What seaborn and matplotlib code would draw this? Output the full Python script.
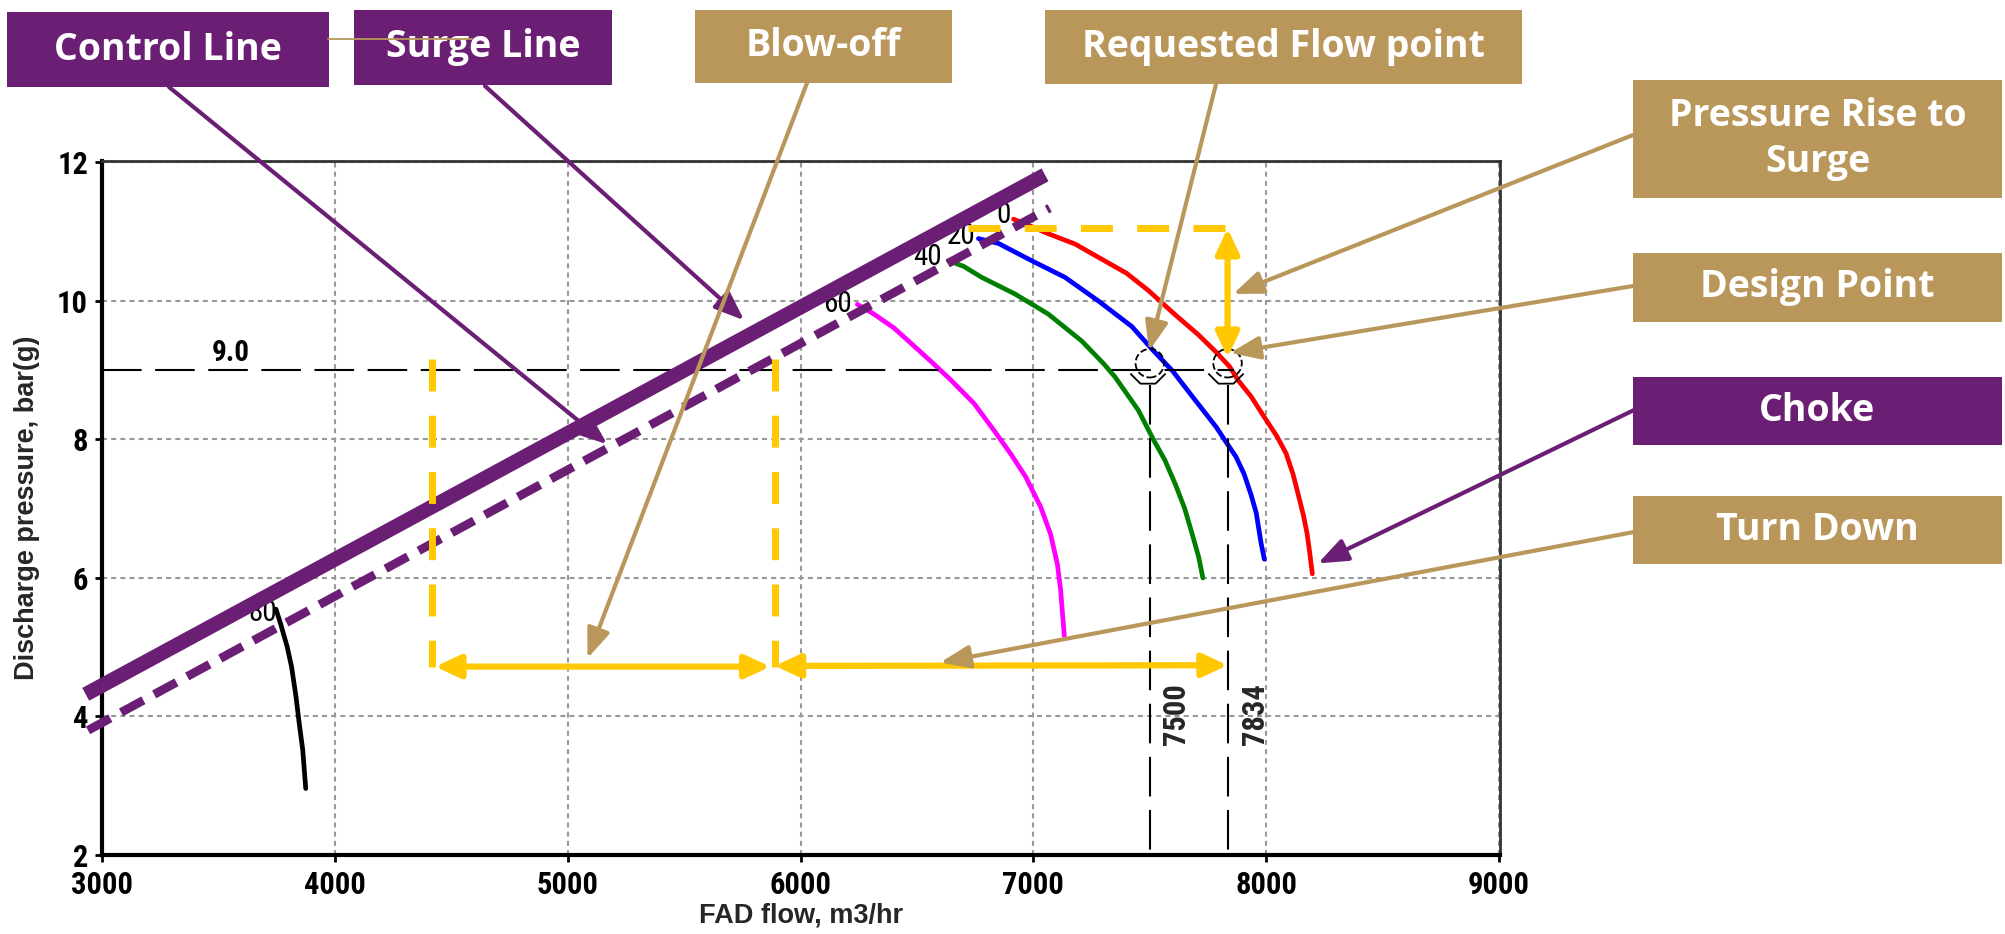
import matplotlib
matplotlib.use('Agg')
import matplotlib.pyplot as plt
import seaborn as sns
import pandas as pd
from matplotlib import font_manager as fm
from matplotlib.patches import Rectangle
from matplotlib.path import Path

# ---------------- data ----------------
speed_labels = ['0', '20', '40', '60', '80']
speed_colors = ['#FF0000', '#0000FF', '#008000', '#FF00FF', '#000000']

flow_0 = [6915, 6960, 7064, 7180, 7279, 7400, 7494, 7609, 7709, 7785, 7843, 7880, 7935, 7996, 8045, 8085, 8115, 8140, 8160, 8175, 8187, 8198]
pres_0 = [11.18, 11.12, 10.97, 10.82, 10.63, 10.40, 10.15, 9.80, 9.51, 9.26, 9.05, 8.85, 8.62, 8.30, 8.05, 7.80, 7.50, 7.17, 6.90, 6.65, 6.36, 6.06]

flow_20 = [6764, 6850, 6993, 7136, 7279, 7423, 7513, 7600, 7685, 7785, 7830, 7870, 7905, 7935, 7957, 7978, 7992]
pres_20 = [10.90, 10.83, 10.58, 10.34, 10.00, 9.63, 9.29, 8.98, 8.61, 8.18, 7.95, 7.75, 7.50, 7.20, 6.94, 6.50, 6.27]

flow_40 = [6635, 6700, 6778, 6921, 7064, 7208, 7300, 7351, 7451, 7515, 7565, 7610, 7650, 7685, 7710, 7728]
pres_40 = [10.58, 10.50, 10.34, 10.10, 9.81, 9.42, 9.10, 8.90, 8.42, 8.00, 7.70, 7.35, 7.00, 6.60, 6.30, 6.00]

flow_60 = [6244, 6315, 6401, 6487, 6559, 6645, 6745, 6831, 6903, 6967, 7032, 7074, 7103, 7117, 7125, 7133]
pres_60 = [9.95, 9.81, 9.61, 9.35, 9.13, 8.86, 8.52, 8.13, 7.79, 7.46, 7.02, 6.63, 6.20, 5.83, 5.49, 5.16]

flow_80 = [3747, 3766, 3795, 3814, 3833, 3847, 3862, 3875]
pres_80 = [5.55, 5.35, 5.01, 4.72, 4.29, 3.90, 3.52, 2.96]

label_x = [6871, 6690, 6545, 6160, 3690]
label_y = [11.24, 10.93, 10.63, 9.95, 5.50]

surge_x = [2930, 7050]
surge_y = [4.32, 11.82]
control_x = [2940, 7070]
control_y = [3.80, 11.34]

design_pressure = 9.0
design_line_end = 7860
requested_flow = 7500
design_flow = 7834
blowoff_flow = 4416
control_flow_at_design = 5890
arrow_level = 4.72
rise_top = 11.05
rise_bottom = 9.18
rise_start = 6718
dashed_top = 9.16
marker_y = 9.10

x_ticks = [3000, 4000, 5000, 6000, 7000, 8000, 9000]
y_ticks = [2, 4, 6, 8, 10, 12]

# ---------------- style ----------------
sns.set_theme(style='white')
names = {f.name for f in fm.fontManager.ttflist}
narrow, nscale = 'Liberation Sans', 0.92
for cand in ['Liberation Sans Narrow', 'Roboto Condensed', 'Open Sans Condensed', 'Arial Narrow']:
    if cand in names:
        narrow, nscale = cand, 1.0
        break
boxfont = 'Open Sans' if 'Open Sans' in names else 'Lato'
plt.rcParams['font.family'] = ['Liberation Sans', 'DejaVu Sans']

PURPLE = '#6B1F74'
TAN = '#B9975B'
GOLD = '#FFC800'

W, H = 2006, 934
fig = plt.figure(figsize=(W / 100, H / 100), dpi=100)
fig.patch.set_facecolor('white')
ax = fig.add_axes([102 / W, 1 - 855 / H, (1500 - 102) / W, (855 - 161) / H])
ax.set_facecolor('white')

# ---------------- curves ----------------
frames = []
for lab, fx, py in zip(speed_labels, [flow_0, flow_20, flow_40, flow_60, flow_80],
                       [pres_0, pres_20, pres_40, pres_60, pres_80]):
    frames.append(pd.DataFrame({'flow': fx, 'pressure': py, 'speed': lab}))
df = pd.concat(frames, ignore_index=True)
sns.lineplot(data=df, x='flow', y='pressure', hue='speed',
             palette=dict(zip(speed_labels, speed_colors)), hue_order=speed_labels,
             lw=3.4, sort=False, estimator=None, legend=False, ax=ax, zorder=3)

for lab, lx, ly in zip(speed_labels, label_x, label_y):
    ax.text(lx, ly, lab, ha='center', va='center', fontsize=21 * nscale,
            family=narrow, color='black', zorder=4)

# design pressure line
ax.plot([x_ticks[0], design_line_end], [design_pressure, design_pressure],
        color='black', lw=1.5, dashes=(19, 6.5), zorder=4)
ax.text(3554, 9.25, '9.0', ha='center', va='center', fontsize=21 * nscale,
        family=narrow, fontweight='bold', color='black', zorder=4)

# vertical lines at requested / design flow
for fx in [requested_flow, design_flow]:
    ax.plot([fx, fx], [8.79, 2.0], color='black', lw=1.5, dashes=(19, 6.5), zorder=4)
ax.text(7613, 4.04, str(requested_flow), rotation=90, ha='center', va='center',
        fontsize=22 * nscale, family=narrow, fontweight='bold', zorder=4)
ax.text(7952, 4.04, str(design_flow), rotation=90, ha='center', va='center',
        fontsize=22 * nscale, family=narrow, fontweight='bold', zorder=4)

# markers
ax.scatter([requested_flow, design_flow], [marker_y, marker_y], s=420,
           facecolors='none', edgecolors='black', linewidths=1.3,
           linestyle='--', zorder=5)
bowl = Path([(-1.0, -0.5), (-0.5, -1.0), (0.25, -1.0), (0.75, -0.5)],
            [Path.MOVETO, Path.LINETO, Path.LINETO, Path.LINETO])
ax.plot([requested_flow, design_flow], [marker_y, marker_y], linestyle='none',
        marker=bowl, ms=29, mfc='none', mec='black', mew=1.3, zorder=5)

# surge / control lines
ax.plot(surge_x, surge_y, color=PURPLE, lw=10.5, solid_capstyle='butt',
        clip_on=False, zorder=6)
ax.plot(control_x, control_y, color=PURPLE, lw=6.3, dashes=(2.9, 1.4),
        clip_on=False, zorder=6)

# yellow construction lines
for fx in [blowoff_flow, control_flow_at_design]:
    ax.plot([fx, fx], [dashed_top, arrow_level], color=GOLD, lw=5,
            dashes=(4.6, 3.5), zorder=7)
ax.plot([rise_start, design_flow], [rise_top, rise_top], color=GOLD, lw=5,
        dashes=(4.6, 3.5), zorder=7)

def dbl(p0, p1):
    ax.annotate('', xy=p1, xytext=p0, xycoords='data', textcoords='data',
                arrowprops=dict(arrowstyle='<|-|>,head_length=0.75,head_width=0.35',
                                color=GOLD, lw=4.5, mutation_scale=20,
                                shrinkA=0, shrinkB=0), zorder=8)

dbl((blowoff_flow + 15, arrow_level), (control_flow_at_design - 20, arrow_level))
dbl((control_flow_at_design, arrow_level + 0.01), (design_flow, arrow_level + 0.02))
dbl((design_flow, rise_top), (design_flow, rise_bottom))

# ---------------- axes styling ----------------
ax.set_xlim(3000, 9004)
ax.set_ylim(2, 12.02)
ax.set_xticks(x_ticks)
ax.set_yticks(y_ticks)
ax.grid(True, color='#999999', lw=1.5, linestyle=(0, (2.4, 2.0)), zorder=0)
ax.set_axisbelow(True)
for s in ['left', 'bottom']:
    ax.spines[s].set_linewidth(3)
    ax.spines[s].set_color('black')
for s in ['top', 'right']:
    ax.spines[s].set_linewidth(2)
    ax.spines[s].set_color('#333333')
ax.tick_params(axis='both', which='major', direction='out', length=5, width=2,
               colors='black', left=True, bottom=True)
ax.tick_params(axis='x', pad=6)
ax.tick_params(axis='y', pad=5)
for lab in ax.get_xticklabels() + ax.get_yticklabels():
    lab.set_family(narrow)
    lab.set_fontweight('bold')
    lab.set_fontsize(22 * nscale)

ax.set_xlabel('FAD flow, m3/hr', fontsize=19.5, fontweight='bold')
ax.set_ylabel('Discharge pressure, bar(g)', fontsize=19.5, fontweight='bold')
ax.xaxis.set_label_coords(0.5, -0.068)
ax.yaxis.set_label_coords(-0.044, 0.5)

# ---------------- callout boxes ----------------
def box(x0, y0, x1, y1, color, text):
    fig.add_artist(Rectangle((x0 / W, 1 - y1 / H), (x1 - x0) / W, (y1 - y0) / H,
                             transform=fig.transFigure, facecolor=color,
                             edgecolor='none', zorder=10))
    fig.text((x0 + x1) / 2 / W, 1 - (y0 + y1) / 2 / H, text, ha='center',
             va='center', color='white', fontsize=27, fontweight='bold',
             family=boxfont, zorder=11, linespacing=1.3)

def callout(start_px, target, color):
    ax.annotate('', xy=target, xycoords='data',
                xytext=(start_px[0] / W, 1 - start_px[1] / H),
                textcoords='figure fraction',
                arrowprops=dict(arrowstyle='-|>,head_length=0.9,head_width=0.35',
                                color=color, lw=3, mutation_scale=20,
                                shrinkA=0, shrinkB=0),
                annotation_clip=False, zorder=9)

box(7, 12, 329, 87, PURPLE, 'Control Line')
box(354, 10, 612, 85, PURPLE, 'Surge Line')
box(695, 10, 952, 83, TAN, 'Blow-off')
box(1045, 10, 1522, 84, TAN, 'Requested Flow point')
box(1633, 80, 2002, 198, TAN, 'Pressure Rise to\nSurge')
box(1633, 253, 2002, 322, TAN, 'Design Point')
box(1633, 377, 2002, 445, PURPLE, 'Choke')
box(1633, 496, 2002, 564, TAN, 'Turn Down')

# thin connector between the two top-left boxes
fig.add_artist(plt.Line2D([328 / W, 472 / W], [1 - 39 / H, 1 - 39 / H],
                          transform=fig.transFigure, color=TAN, lw=1.3, zorder=12))

callout((169, 87), (5170, 7.93), PURPLE)
callout((485, 86), (5758, 9.72), PURPLE)
callout((807, 83), (5085, 4.84), TAN)
callout((1216, 84), (7497, 9.28), TAN)
callout((1633, 135), (7858, 10.10), TAN)
callout((1633, 286), (7845, 9.25), TAN)
callout((1634, 410), (8222, 6.21), PURPLE)
callout((1634, 532), (6600, 4.78), TAN)

fig.savefig('out.png', dpi=100, facecolor='white')
